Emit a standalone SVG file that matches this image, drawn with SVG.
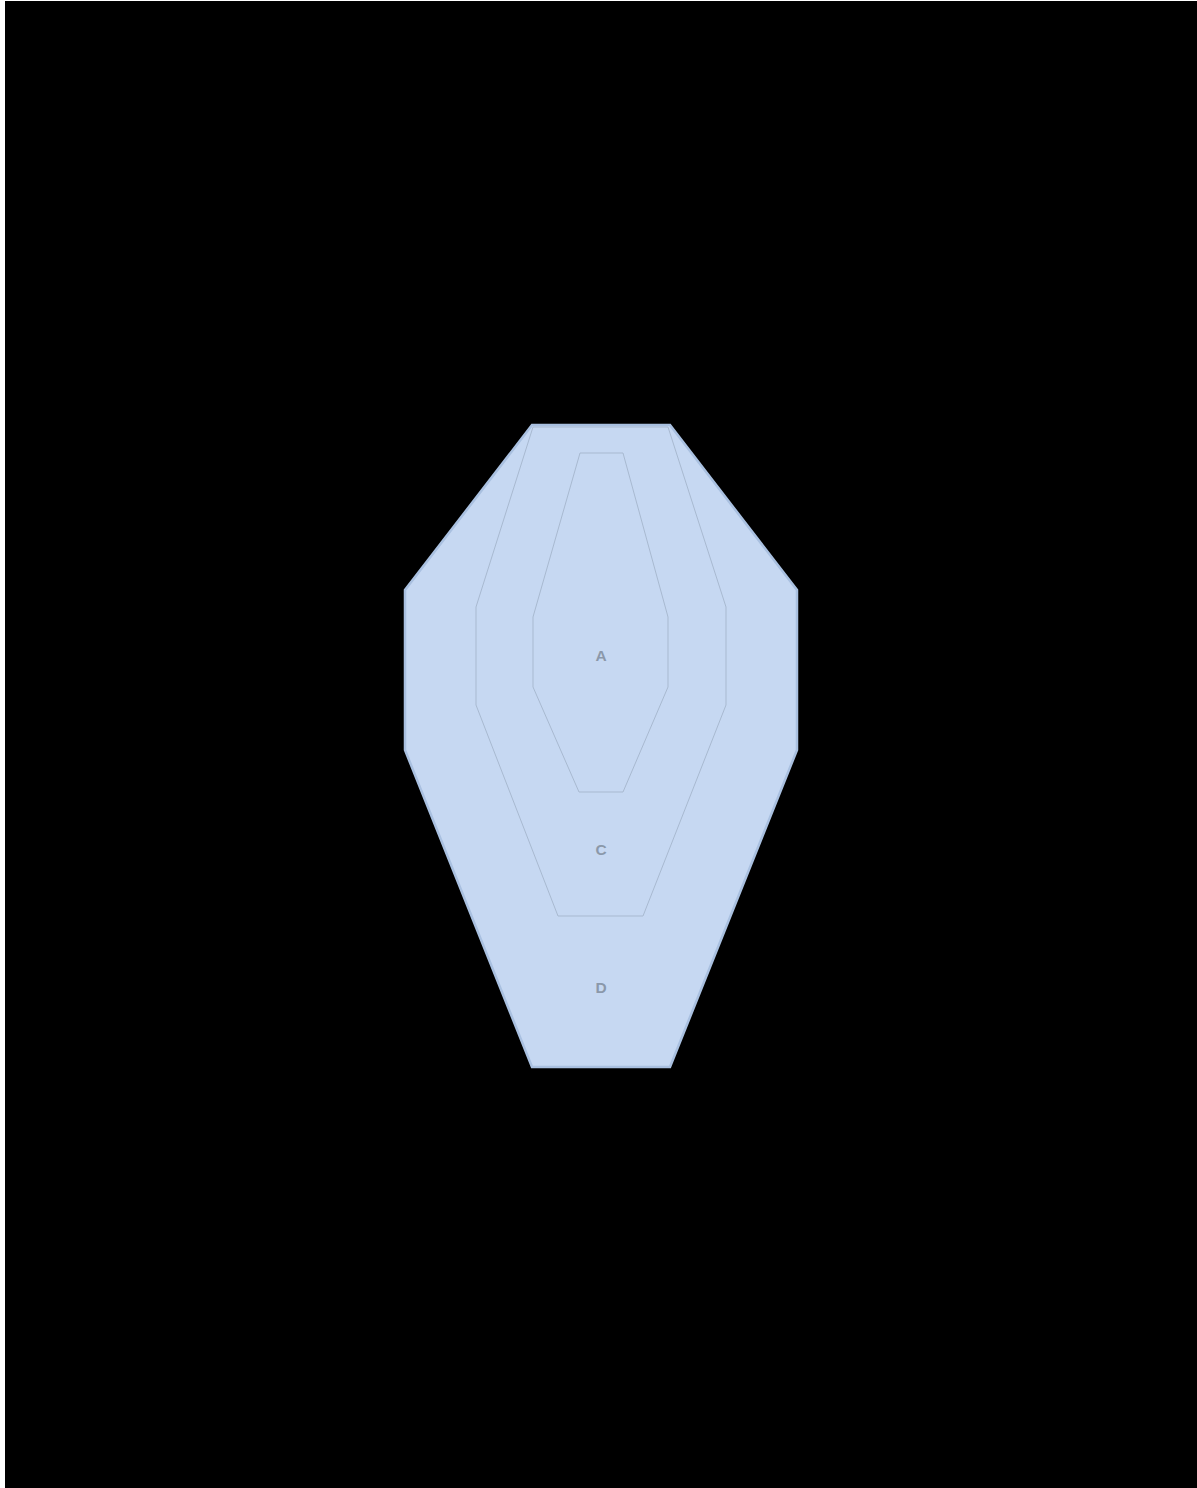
<svg xmlns="http://www.w3.org/2000/svg" width="1197" height="1488" viewBox="0 0 1197 1488">
<style>
.zone{fill:#c6d8f2;stroke:#a8b9d0;stroke-width:1}
.outer{fill:#c6d8f2;stroke:#a9c0e0;stroke-width:2.5}
.lbl{font-family:"Liberation Sans",Arial,sans-serif;font-size:15.5px;font-weight:bold;fill:#8b98aa;text-anchor:middle;dominant-baseline:central}
</style>
<rect x="0" y="0" width="1197" height="1488" fill="#ffffff"/>
<rect x="5" y="1" width="1192" height="1487" fill="#000000"/>
<g id="node-D">
<polygon class="outer" points="532,425 670,425 797,590 797,750 670,1067 532,1067 405,750 405,590"/>
<text class="lbl" x="601" y="987">D</text>
</g>
<g id="node-C">
<polygon class="zone" points="533,427 668,427 726,607 726,705 643,916 558,916 476,705 476,607"/>
<text class="lbl" x="601" y="849">C</text>
</g>
<g id="node-A">
<polygon class="zone" points="580,453 623,453 668,617 668,687 623,792 579,792 533,687 533,617"/>
<text class="lbl" x="601" y="655">A</text>
</g>
<g id="connectors"/>
</svg>
